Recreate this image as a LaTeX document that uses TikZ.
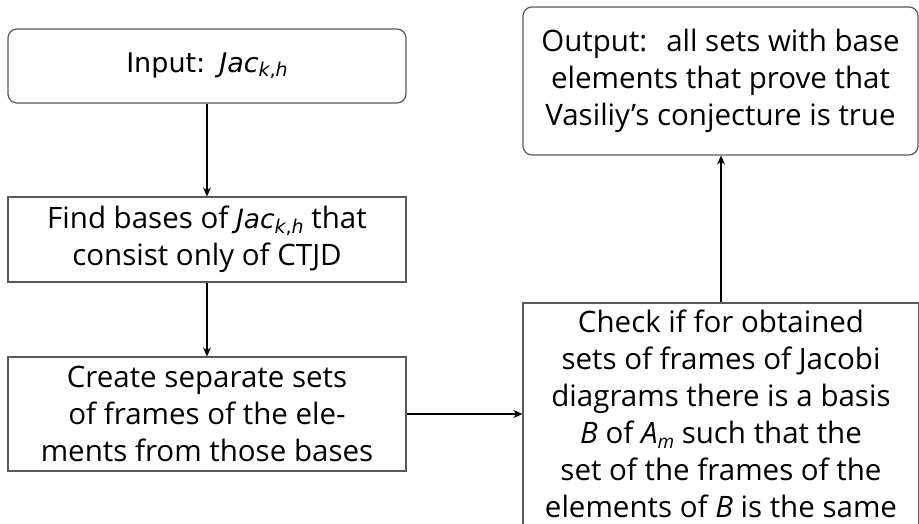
\documentclass[tikz,border=0pt]{standalone}
\usepackage{fontspec}
\setmainfont{Open Sans}
\newfontfamily\dejaf{DejaVu Sans}
\usetikzlibrary{arrows.meta}
\newcommand\sbs[1]{\raisebox{-0.3ex}{\fontsize{19}{20}\selectfont #1}}
\begin{document}
\begin{tikzpicture}[x=1pt,y=-1pt,
  box/.style={draw=black!65, line width=1.2pt, inner sep=0pt, align=center, font=\fontsize{29.5}{37}\selectfont},
  rbox/.style={box, rounded corners=9pt},
  arr/.style={-{Stealth[length=9pt,width=8pt]}, line width=1.3pt, black}]
\useasboundingbox (0,0) rectangle (919,524);
\clip (0,0) rectangle (919,524);
\node[rbox, minimum width=398pt, minimum height=74pt, font=\fontsize{27}{32}\dejaf] (in) at (207,66) {Input:\hspace{14pt}\textit{Jac}\sbs{\textit{k},\textit{h}}};
\node[box, minimum width=398pt, minimum height=85pt] (find) at (207,239.5) {Find bases of {\dejaf\fontsize{26.5}{32}\selectfont\textit{Jac}\sbs{\textit{k},\textit{h}}} that\\consist only of CTJD};
\node[box, minimum width=398pt, minimum height=114pt] (create) at (207,414) {Create separate sets\\of frames of the ele-\\ments from those bases};
\node[box, minimum width=396pt, minimum height=222pt] (check) at (721,414) {Check if for obtained\\sets of frames of Jacobi\\diagrams there is a basis\\\textit{B} of \textit{A}\sbs{\textit{m}} such that the\\set of the frames of the\\elements of \textit{B} is the same};
\node[rbox, minimum width=395pt, minimum height=148pt] (out) at (720.5,81) {Output:\hspace{19pt}all sets with base\\elements that prove that\\Vasiliy’s conjecture is true};
\draw[arr] (in) -- (find);
\draw[arr] (find) -- (create);
\draw[arr] (create) -- (check);
\draw[arr] (check.north) -- (check.north |- out.south);
\end{tikzpicture}
\end{document}
